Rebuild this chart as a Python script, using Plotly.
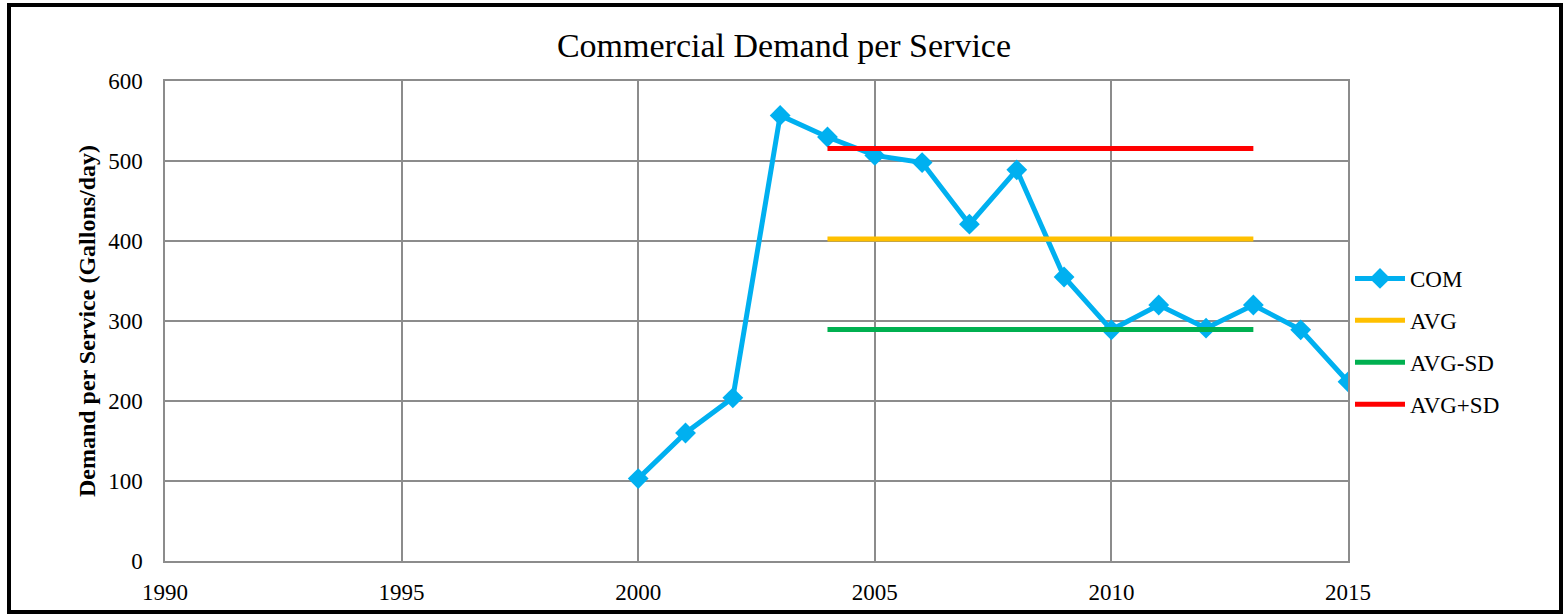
import plotly.graph_objects as go

years = [2000, 2001, 2002, 2003, 2004, 2005, 2006, 2007, 2008, 2009, 2010, 2011, 2012, 2013, 2014, 2015]
com = [103, 160, 204, 557, 530, 507, 498, 421, 489, 355, 289, 320, 291, 320, 289, 224]
ref_years = [2004, 2013]
avg = [402.5, 402.5]
avg_minus_sd = [289.5, 289.5]
avg_plus_sd = [515.5, 515.5]

FONT = "Liberation Serif, Times New Roman, serif"
W, H = 1568, 616
L, R, T, B = 165, 220, 81, 55
pw, ph = W - L - R, H - T - B

fig = go.Figure()
fig.add_trace(go.Scatter(x=years, y=com, name="COM", mode="lines+markers", legendgroup="a",
                         line=dict(color="#00B0F0", width=5),
                         marker=dict(symbol="diamond", size=16, color="#00B0F0")))
fig.add_trace(go.Scatter(x=ref_years, y=avg, name="AVG", mode="lines", legendgroup="b",
                         line=dict(color="#FFC000", width=5)))
fig.add_trace(go.Scatter(x=ref_years, y=avg_minus_sd, name="AVG-SD", mode="lines", legendgroup="c",
                         line=dict(color="#00B050", width=5)))
fig.add_trace(go.Scatter(x=ref_years, y=avg_plus_sd, name="AVG+SD", mode="lines", legendgroup="d",
                         line=dict(color="#FF0000", width=5)))

def px_x(p):
    return (p - L) / pw

def px_y(p):
    return (H - B - p) / ph

fig.add_shape(type="rect", xref="paper", yref="paper",
              x0=px_x(9), x1=px_x(1561), y0=px_y(612), y1=px_y(5),
              line=dict(color="black", width=4), fillcolor="rgba(0,0,0,0)", layer="above")

fig.update_layout(
    width=W, height=H,
    margin=dict(l=L, r=R, t=T, b=B),
    paper_bgcolor="white", plot_bgcolor="white",
    font=dict(family=FONT, color="black", size=23),
    title=dict(text="Commercial Demand per Service", x=0.5, xanchor="center",
               y=1 - 45 / H, yanchor="middle", font=dict(size=34)),
    legend=dict(x=px_x(1350), y=px_y(257), xanchor="left", yanchor="top",
                font=dict(size=23), tracegroupgap=9, itemwidth=50,
                bgcolor="rgba(0,0,0,0)"),
    showlegend=True,
)
fig.update_xaxes(range=[1990, 2015], tickmode="linear", tick0=1990, dtick=5,
                 showgrid=True, gridcolor="#8C8C8C", gridwidth=1.5,
                 showline=True, linecolor="#8C8C8C", linewidth=1.5, mirror=True,
                 zeroline=False, ticks="", tickfont=dict(size=23), ticklabelstandoff=10)
fig.update_yaxes(range=[0, 600], tickmode="linear", tick0=0, dtick=100,
                 showgrid=True, gridcolor="#8C8C8C", gridwidth=1.5,
                 showline=True, linecolor="#8C8C8C", linewidth=1.5, mirror=True,
                 zeroline=False, ticks="", tickfont=dict(size=23), ticklabelstandoff=16,
                 title=dict(text="<b>Demand per Service (Gallons/day)</b>",
                            font=dict(size=24), standoff=6))

fig.write_html("out.html", post_script="document.body.style.margin='0';",
               config={"displayModeBar": False})
